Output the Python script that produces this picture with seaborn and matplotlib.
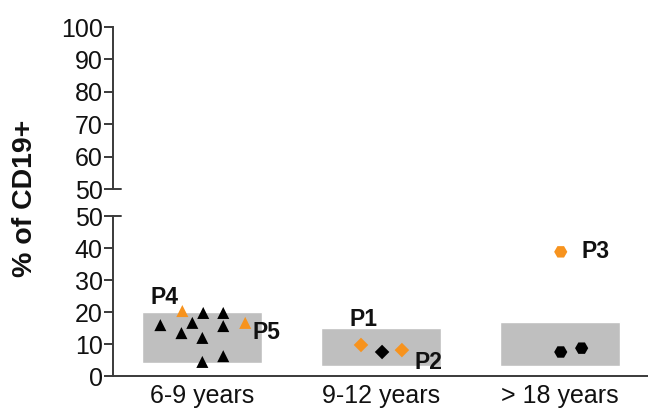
import matplotlib
matplotlib.use("Agg")
import matplotlib.pyplot as plt
import pandas as pd
import seaborn as sns

# ---- data ----
groups = ["6-9 years", "9-12 years", "> 18 years"]

# normal-range boxes per group (low, high)
box_low = [4, 3, 3]
box_high = [20, 15, 17]

# individual samples: group index, horizontal jitter, value, patient label
pt_group = [0, 0, 0, 0, 0, 0, 0, 0, 0, 0, 0, 1, 1, 1, 2, 2, 2]
pt_jitter = [-0.235, 0.005, -0.056, -0.117, 0.0, 0.117, 0.117, 0.0, 0.117, -0.112, 0.24,
             -0.112, 0.006, 0.117, 0.006, 0.123, 0.006]
pt_value = [15.9, 19.7, 16.6, 13.4, 11.9, 19.7, 15.6, 4.4, 6.2, 20.3, 16.6,
            9.7, 7.5, 8.1, 7.5, 8.7, 38.8]
pt_label = ["", "", "", "", "", "", "", "", "", "P4", "P5",
            "P1", "", "P2", "", "", "P3"]

# label offsets (points) relative to each patient marker
label_offset = {"P4": (-13, 10), "P5": (15, -7), "P1": (2, 18), "P2": (19, -9), "P3": (25, 0)}

ORANGE = "#F7931E"
GREY = "#BFBFBF"
AXCOL = "#3a3a3a"

df = pd.DataFrame({
    "group": pt_group,
    "x": [g + j for g, j in zip(pt_group, pt_jitter)],
    "value": pt_value,
    "label": pt_label,
})
df["kind"] = df["label"].apply(lambda s: "patient" if s else "control")

sns.set_style("ticks")
plt.rcParams["font.family"] = ["Liberation Sans", "DejaVu Sans"]
plt.rcParams["text.color"] = "#111111"
plt.rcParams["xtick.labelcolor"] = "#111111"
plt.rcParams["ytick.labelcolor"] = "#111111"

fig = plt.figure(figsize=(6.48, 4.16), dpi=100)
ax_lo = fig.add_axes([113 / 648, 40 / 416, 536 / 648, 160 / 416])
ax_hi = fig.add_axes([113 / 648, 227 / 416, 536 / 648, 162 / 416])

# grey boxes
ax_lo.bar(range(len(groups)), [h - l for l, h in zip(box_low, box_high)],
          bottom=box_low, width=0.67, color=GREY, zorder=1)

markers = ["^", "D", "H"]
sizes = [75, 55, 90]
for g in range(len(groups)):
    sub = df[df["group"] == g]
    sns.scatterplot(data=sub, x="x", y="value", hue="kind",
                    palette={"control": "black", "patient": ORANGE},
                    marker=markers[g], s=sizes[g], linewidth=0,
                    legend=False, ax=ax_lo, zorder=3, clip_on=False)

for _, r in df[df["label"] != ""].iterrows():
    ax_lo.annotate(r["label"], (r["x"], r["value"]),
                   xytext=label_offset[r["label"]], textcoords="offset points",
                   ha="center", va="center", fontsize=16.5, fontweight="bold")

# lower axis
ax_lo.set_xlim(-0.5, 2.5)
ax_lo.set_ylim(0, 50)
ax_lo.set_yticks(range(0, 51, 10))
ax_lo.set_xticks(range(len(groups)))
ax_lo.set_xticklabels(groups)
ax_lo.set_xlabel("")
ax_lo.set_ylabel("")
for side in ["top", "right"]:
    ax_lo.spines[side].set_visible(False)

# upper axis (only y spine)
ax_hi.set_xlim(-0.5, 2.5)
ax_hi.set_ylim(50, 100)
ax_hi.set_yticks(range(50, 101, 10))
ax_hi.set_xticks([])
for side in ["top", "right", "bottom"]:
    ax_hi.spines[side].set_visible(False)

for ax in (ax_lo, ax_hi):
    ax.set_facecolor("none")
    ax.spines["left"].set_color(AXCOL)
    ax.spines["left"].set_linewidth(1.4)
    ax.spines["bottom"].set_color(AXCOL)
    ax.spines["bottom"].set_linewidth(1.4)
    ax.tick_params(axis="y", length=6.5, width=1.4, color=AXCOL, labelsize=18, pad=1)
    ax.tick_params(axis="x", length=0, labelsize=18, pad=6)

# break marks: the two 50 ticks cross the axis
ax_lo.plot([0, 0.014], [1, 1], transform=ax_lo.transAxes, color=AXCOL, lw=1.4, clip_on=False)
ax_hi.plot([0, 0.014], [0, 0], transform=ax_hi.transAxes, color=AXCOL, lw=1.4, clip_on=False)

fig.text(25 / 648, 1 - 198 / 416, "% of CD19+", rotation=90, ha="center", va="center",
         fontsize=20.5, fontweight="bold")

fig.savefig("out.png", dpi=100)
